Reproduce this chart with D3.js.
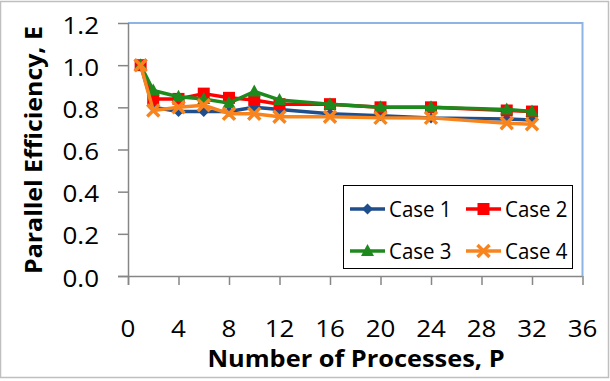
<!DOCTYPE html>
<html>
<head>
<meta charset="utf-8">
<script src="https://cdn.jsdelivr.net/npm/d3@7"></script>
<style>
  html, body { margin: 0; padding: 0; background: #fff; }
  svg { display: block; }
  text { font-family: "Open Sans", sans-serif; fill: #000; }
</style>
</head>
<body>
<svg id="chart" width="610" height="381"></svg>
<script>
// Number of processes for every run
const processes = [1, 2, 4, 6, 8, 10, 12, 16, 20, 24, 30, 32];

// Parallel efficiency per case
const case1 = [1.0, 0.80, 0.78, 0.78, 0.78, 0.80, 0.79, 0.77, 0.76, 0.75, 0.745, 0.74];
const case2 = [1.0, 0.84, 0.84, 0.865, 0.845, 0.835, 0.815, 0.815, 0.80, 0.80, 0.785, 0.78];
const case3 = [1.0, 0.88, 0.85, 0.84, 0.82, 0.875, 0.835, 0.815, 0.80, 0.80, 0.79, 0.78];
const case4 = [1.0, 0.785, 0.80, 0.81, 0.77, 0.77, 0.755, 0.755, 0.75, 0.75, 0.725, 0.72];

const seriesNames = ["Case 1", "Case 2", "Case 3", "Case 4"];
const xTicks = [0, 4, 8, 12, 16, 20, 24, 28, 32, 36];
const yTicks = [0, 0.2, 0.4, 0.6, 0.8, 1.0, 1.2];

const series = [
  { name: seriesNames[0], values: case1, color: "#1F4E8C", marker: "diamond" },
  { name: seriesNames[1], values: case2, color: "#FF0000", marker: "square" },
  { name: seriesNames[2], values: case3, color: "#1E8A1E", marker: "triangle" },
  { name: seriesNames[3], values: case4, color: "#F8841E", marker: "cross" }
];

const svg = d3.select("#chart");
const plotL = 128, plotR = 582.5, plotT = 23, plotB = 276;
const x = d3.scaleLinear().domain([0, 36]).range([plotL, plotR]);
const y = d3.scaleLinear().domain([0, 1.2]).range([plotB, plotT]);

// Outer chart frame
svg.append("rect").attr("x", 0.5).attr("y", 1.5).attr("width", 608).attr("height", 376)
  .attr("fill", "#fff").attr("stroke", "#BFBFBF").attr("stroke-width", 1.5);

// Plot area frame (top and right edges)
svg.append("path")
  .attr("d", `M${plotL},${plotT}H${plotR}V${plotB}`)
  .attr("fill", "none").attr("stroke", "#8EB4E3").attr("stroke-width", 2);

// Text helper with an optional horizontal stretch of the glyphs
function label(g, tx, ty, str, opts = {}) {
  const sx = opts.sx || 1;
  return g.append("text")
    .attr("transform", `translate(${tx},${ty}) ${opts.rotate ? "rotate(" + opts.rotate + ")" : ""} scale(${sx},1)`)
    .attr("text-anchor", opts.anchor || "middle")
    .style("font-size", (opts.size || 23) + "px")
    .style("font-weight", opts.weight || "normal")
    .text(str);
}

// Axes
const xAxis = d3.axisBottom(x).tickValues(xTicks).tickSize(9).tickFormat("");
const yAxis = d3.axisLeft(y).tickValues(yTicks).tickSize(10).tickFormat("");
const gx = svg.append("g").attr("transform", `translate(0,${plotB})`).call(xAxis);
const gy = svg.append("g").attr("transform", `translate(${plotL},0)`).call(yAxis);
[gx, gy].forEach(g => {
  g.select(".domain").attr("stroke", "#868686").attr("stroke-width", 1.5);
  g.selectAll(".tick line").attr("stroke", "#868686").attr("stroke-width", 1.5);
});
gx.select(".domain").attr("d", `M${plotL - 10},0.5H${plotR}`);
gy.select(".domain").attr("d", `M0.5,${plotT}V${plotB + 9}`);

const labels = svg.append("g");
xTicks.forEach(v => label(labels, x(v), 337, String(v), { sx: 1.13 }));
yTicks.forEach(v => label(labels, 99, y(v) + 10.5, d3.format(".1f")(v), { anchor: "end", sx: 1.13 }));

// Axis titles
label(svg, 356, 367, "Number of Processes, P", { weight: "bold", size: 23.5, sx: 1.08 });
label(svg, 42, 150, "Parallel Efficiency, E", { weight: "bold", size: 23.5, sx: 1.06, rotate: -90 });

// Marker shapes
function drawMarker(g, m, cx, cy, color) {
  if (m === "diamond") {
    g.append("path").attr("d", `M${cx},${cy - 5.5}L${cx + 5.5},${cy}L${cx},${cy + 5.5}L${cx - 5.5},${cy}Z`)
      .attr("fill", color);
  } else if (m === "square") {
    g.append("rect").attr("x", cx - 6).attr("y", cy - 6).attr("width", 12).attr("height", 12)
      .attr("fill", color);
  } else if (m === "triangle") {
    g.append("path").attr("d", `M${cx},${cy - 7}L${cx + 6.5},${cy + 5}L${cx - 6.5},${cy + 5}Z`)
      .attr("fill", color);
  } else {
    g.append("path").attr("d", `M${cx - 6},${cy - 6}L${cx + 6},${cy + 6}M${cx + 6},${cy - 6}L${cx - 6},${cy + 6}`)
      .attr("stroke", color).attr("stroke-width", 3.5).attr("fill", "none");
  }
}

const line = d3.line().x((d, i) => x(processes[i])).y(d => y(d));
series.forEach(s => {
  const g = svg.append("g");
  g.append("path").datum(s.values).attr("d", line)
    .attr("fill", "none").attr("stroke", s.color).attr("stroke-width", 3.5)
    .attr("stroke-linejoin", "round");
  s.values.forEach((v, i) => drawMarker(g, s.marker, x(processes[i]), y(v), s.color));
});

// Legend
const lg = svg.append("g");
lg.append("rect").attr("x", 343.5).attr("y", 185.5).attr("width", 229).attr("height", 83)
  .attr("fill", "#fff").attr("stroke", "#000").attr("stroke-width", 1);
series.forEach((s, i) => {
  const col = i % 2, row = Math.floor(i / 2);
  const lx = 350 + col * 116, ly = 209 + row * 42;
  lg.append("line").attr("x1", lx).attr("x2", lx + 35).attr("y1", ly).attr("y2", ly)
    .attr("stroke", s.color).attr("stroke-width", 3.5);
  drawMarker(lg, s.marker, lx + 17.5, ly, s.color);
  label(lg, lx + 39, ly + 8, s.name, { anchor: "start", size: 22, sx: 0.93 });
});
</script>
</body>
</html>
